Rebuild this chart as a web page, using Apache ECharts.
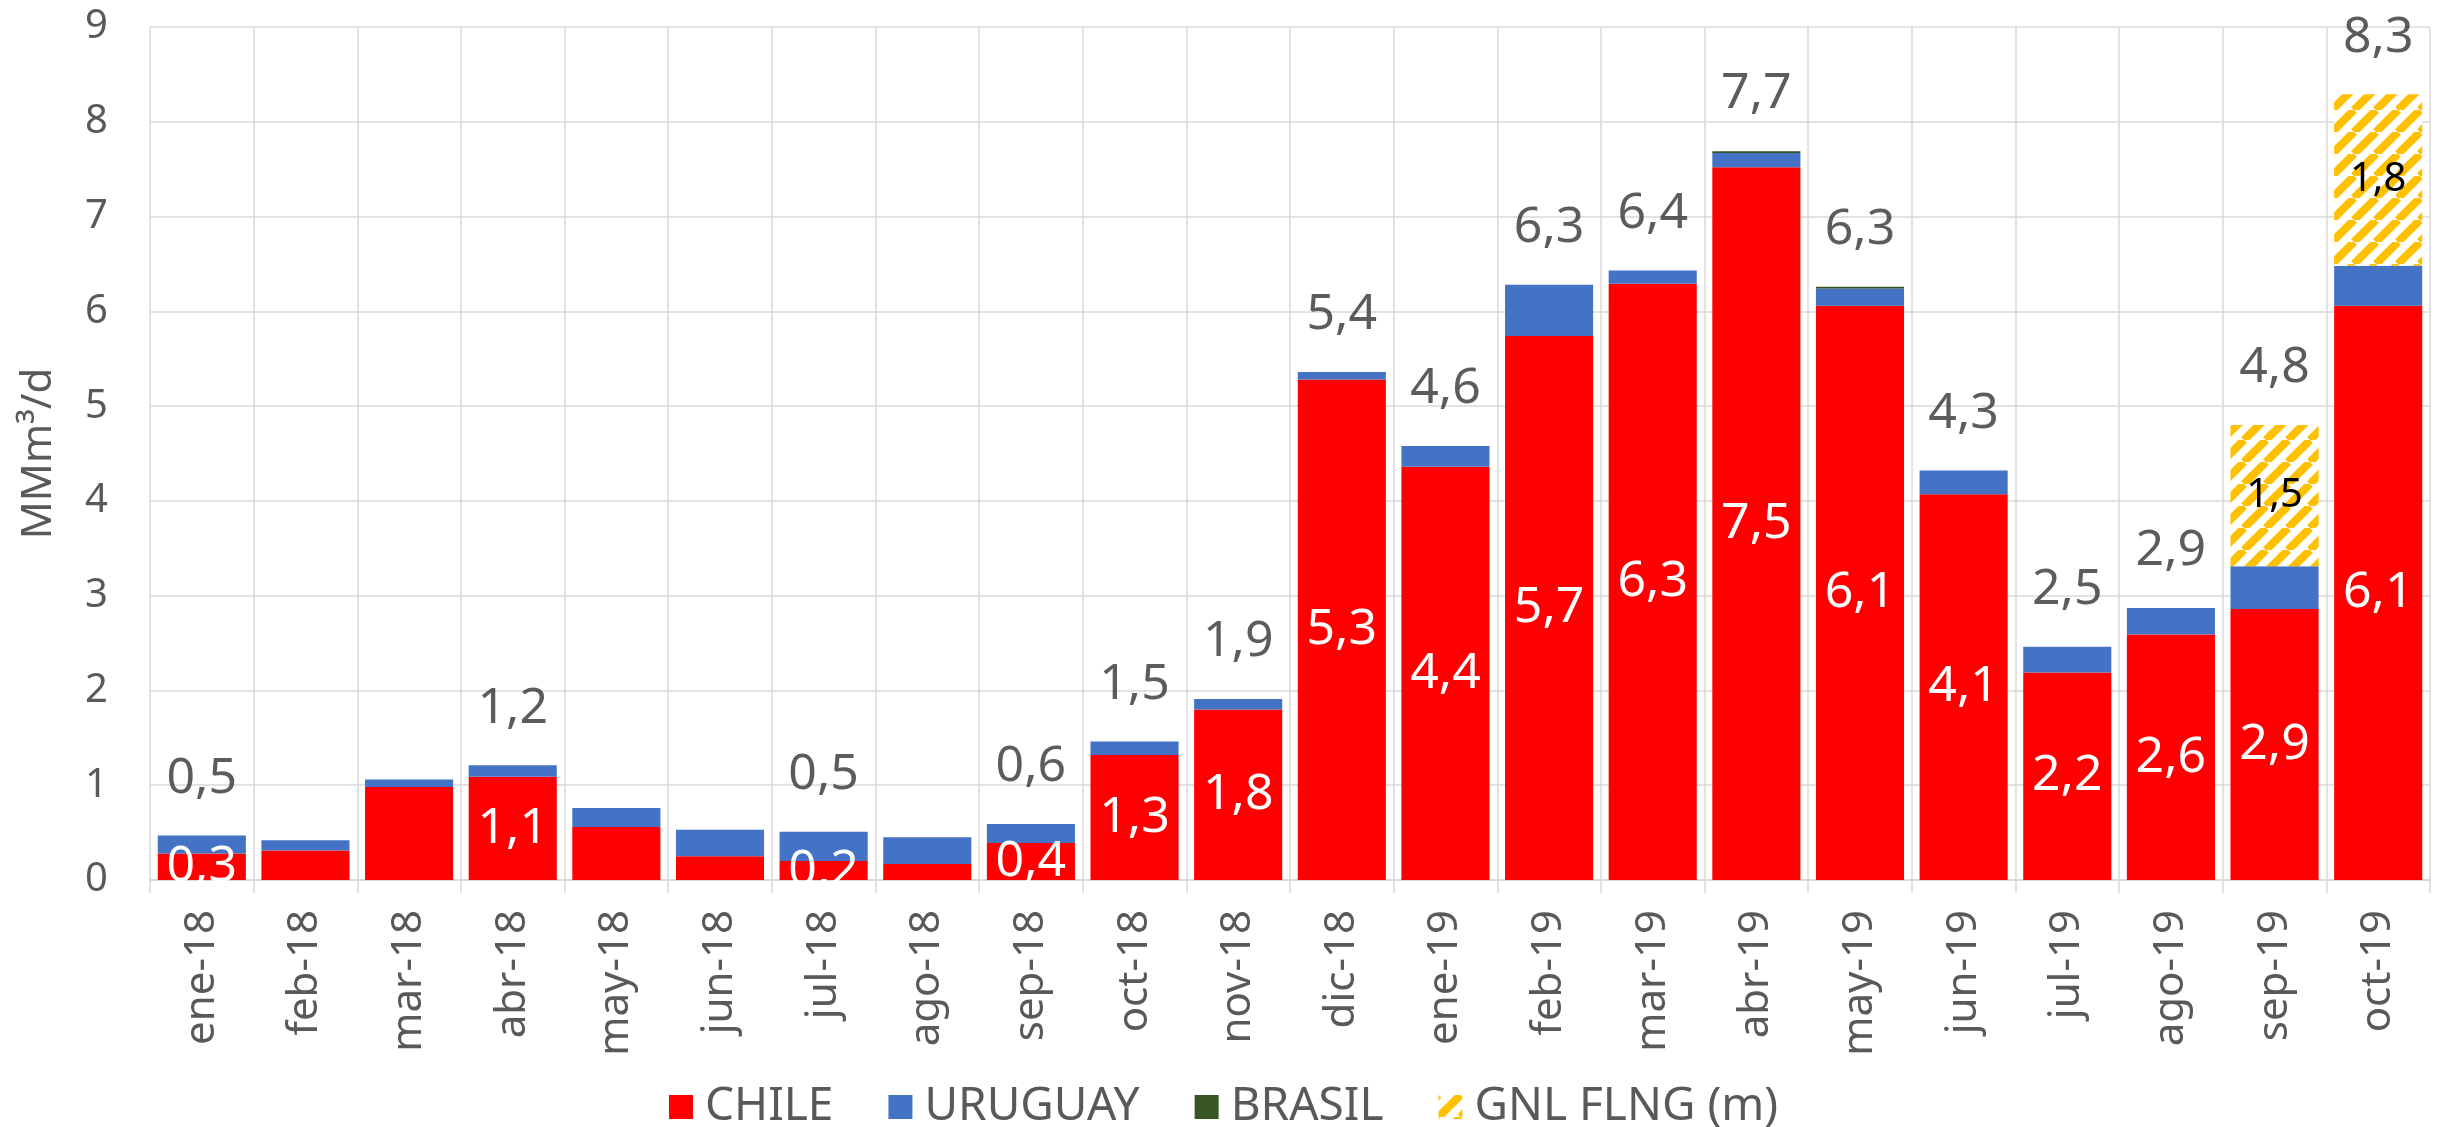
<!DOCTYPE html>
<html>
<head>
<meta charset="utf-8">
<script src="https://cdn.jsdelivr.net/npm/echarts@6/dist/echarts.min.js"></script>
<style>
html, body { margin: 0; padding: 0; background: #fff; }
#chart { width: 2447px; height: 1127px; }
</style>
</head>
<body>
<div id="chart"></div>
<script>
const months = ['ene-18', 'feb-18', 'mar-18', 'abr-18', 'may-18', 'jun-18', 'jul-18', 'ago-18', 'sep-18', 'oct-18', 'nov-18',
    'dic-18', 'ene-19', 'feb-19', 'mar-19', 'abr-19', 'may-19', 'jun-19', 'jul-19', 'ago-19', 'sep-19', 'oct-19']
const chile = [0.28, 0.31, 0.98, 1.09, 0.56, 0.25, 0.20, 0.17, 0.39, 1.32, 1.80, 5.28, 4.36, 5.74, 6.29, 7.52, 6.06, 4.07, 2.19, 2.59, 2.86, 6.06]
const uruguay = [0.19, 0.11, 0.08, 0.12, 0.20, 0.28, 0.31, 0.28, 0.20, 0.14, 0.11, 0.08, 0.22, 0.54, 0.14, 0.15, 0.18, 0.25, 0.27, 0.28, 0.45, 0.42]
const brasil = [0, 0, 0, 0, 0, 0, 0, 0, 0, 0, 0, 0, 0, 0, 0, 0.02, 0.02, 0, 0, 0, 0, 0]
const gnl = [0, 0, 0, 0, 0, 0, 0, 0, 0, 0, 0, 0, 0, 0, 0, 0, 0, 0, 0, 0, 1.49, 1.81]
// months that carry value labels in the original
const labelled = [1, 0, 0, 1, 0, 0, 1, 0, 1, 1, 1, 1, 1, 1, 1, 1, 1, 1, 1, 1, 1, 1]
const yTicks = [0, 9]

const totals = months.map((m, i) => chile[i] + uruguay[i] + brasil[i] + gnl[i])
const fmt = (v) => (Math.round(v * 10) / 10).toFixed(1).replace('.', ',')

// yellow diagonal hatch for the FLNG series
function hatch() {
    const s = 22
    const c = document.createElement('canvas')
    c.width = s
    c.height = s
    const ctx = c.getContext('2d')
    ctx.fillStyle = '#fff'
    ctx.fillRect(0, 0, s, s)
    ctx.strokeStyle = '#FFC000'
    ctx.lineWidth = 8
    for (let k = -1; k <= 1; k++) {
        ctx.beginPath()
        ctx.moveTo(k * s, s)
        ctx.lineTo(k * s + s, 0)
        ctx.stroke()
    }
    return c
}

const font = 'Noto Sans'
const grey = '#595959'
const gridColor = '#D9D9D9'

const chart = echarts.init(document.getElementById('chart'))
chart.setOption({
    animation: false,
    textStyle: { fontFamily: font },
    grid: { left: 150, right: 17, top: 27, bottom: 247, containLabel: false },
    legend: {
        data: ['CHILE', 'URUGUAY', 'BRASIL', 'GNL FLNG (m)'],
        left: 'center',
        top: 1079,
        icon: 'rect',
        itemWidth: 24,
        itemHeight: 24,
        itemGap: 55,
        textStyle: { fontSize: 46, color: grey, fontFamily: font, padding: [0, 0, 0, 7] },
    },
    xAxis: {
        type: 'category',
        data: months,
        axisLine: { lineStyle: { color: gridColor, width: 2 } },
        axisTick: { show: true, length: 13, lineStyle: { color: gridColor, width: 1.5 } },
        splitLine: { show: true, lineStyle: { color: gridColor, width: 1.5 } },
        axisLabel: { rotate: 90, fontSize: 42, color: grey, margin: 30, fontFamily: font },
    },
    yAxis: {
        type: 'value',
        min: yTicks[0],
        max: yTicks[1],
        interval: 1,
        name: 'MMm³/d',
        nameLocation: 'middle',
        nameGap: 90,
        nameTextStyle: { fontSize: 42, color: grey, fontFamily: font },
        axisLine: { show: false },
        axisTick: { show: false },
        splitLine: { lineStyle: { color: gridColor, width: 1.5 } },
        axisLabel: { fontSize: 40, color: grey, margin: 42, fontFamily: font },
    },
    series: [
        {
            name: 'CHILE',
            type: 'bar',
            stack: 'a',
            barCategoryGap: '15%',
            itemStyle: { color: '#FF0000' },
            label: {
                show: true,
                position: 'inside',
                color: '#fff',
                fontSize: 50,
                fontFamily: font,
                formatter: (p) => (labelled[p.dataIndex] ? fmt(p.value) : ''),
            },
            data: chile,
        },
        {
            name: 'URUGUAY',
            type: 'bar',
            stack: 'a',
            itemStyle: { color: '#4472C4' },
            data: uruguay,
        },
        {
            name: 'BRASIL',
            type: 'bar',
            stack: 'a',
            itemStyle: { color: '#375623' },
            data: brasil,
        },
        {
            name: 'GNL FLNG (m)',
            type: 'bar',
            stack: 'a',
            itemStyle: { color: { image: hatch(), repeat: 'repeat' } },
            label: {
                show: true,
                position: 'inside',
                color: '#000',
                fontSize: 40,
                fontFamily: font,
                formatter: (p) => (p.value > 0 ? fmt(p.value) : ''),
            },
            data: gnl,
        },
        {
            name: 'Total',
            type: 'scatter',
            symbolSize: 0,
            silent: true,
            z: 5,
            label: {
                show: true,
                position: 'top',
                distance: 32,
                color: '#333333',
                fontSize: 50,
                fontFamily: font,
                formatter: (p) => (labelled[p.dataIndex] ? fmt(p.value) : ''),
            },
            data: totals,
        },
    ],
})
</script>
</body>
</html>
